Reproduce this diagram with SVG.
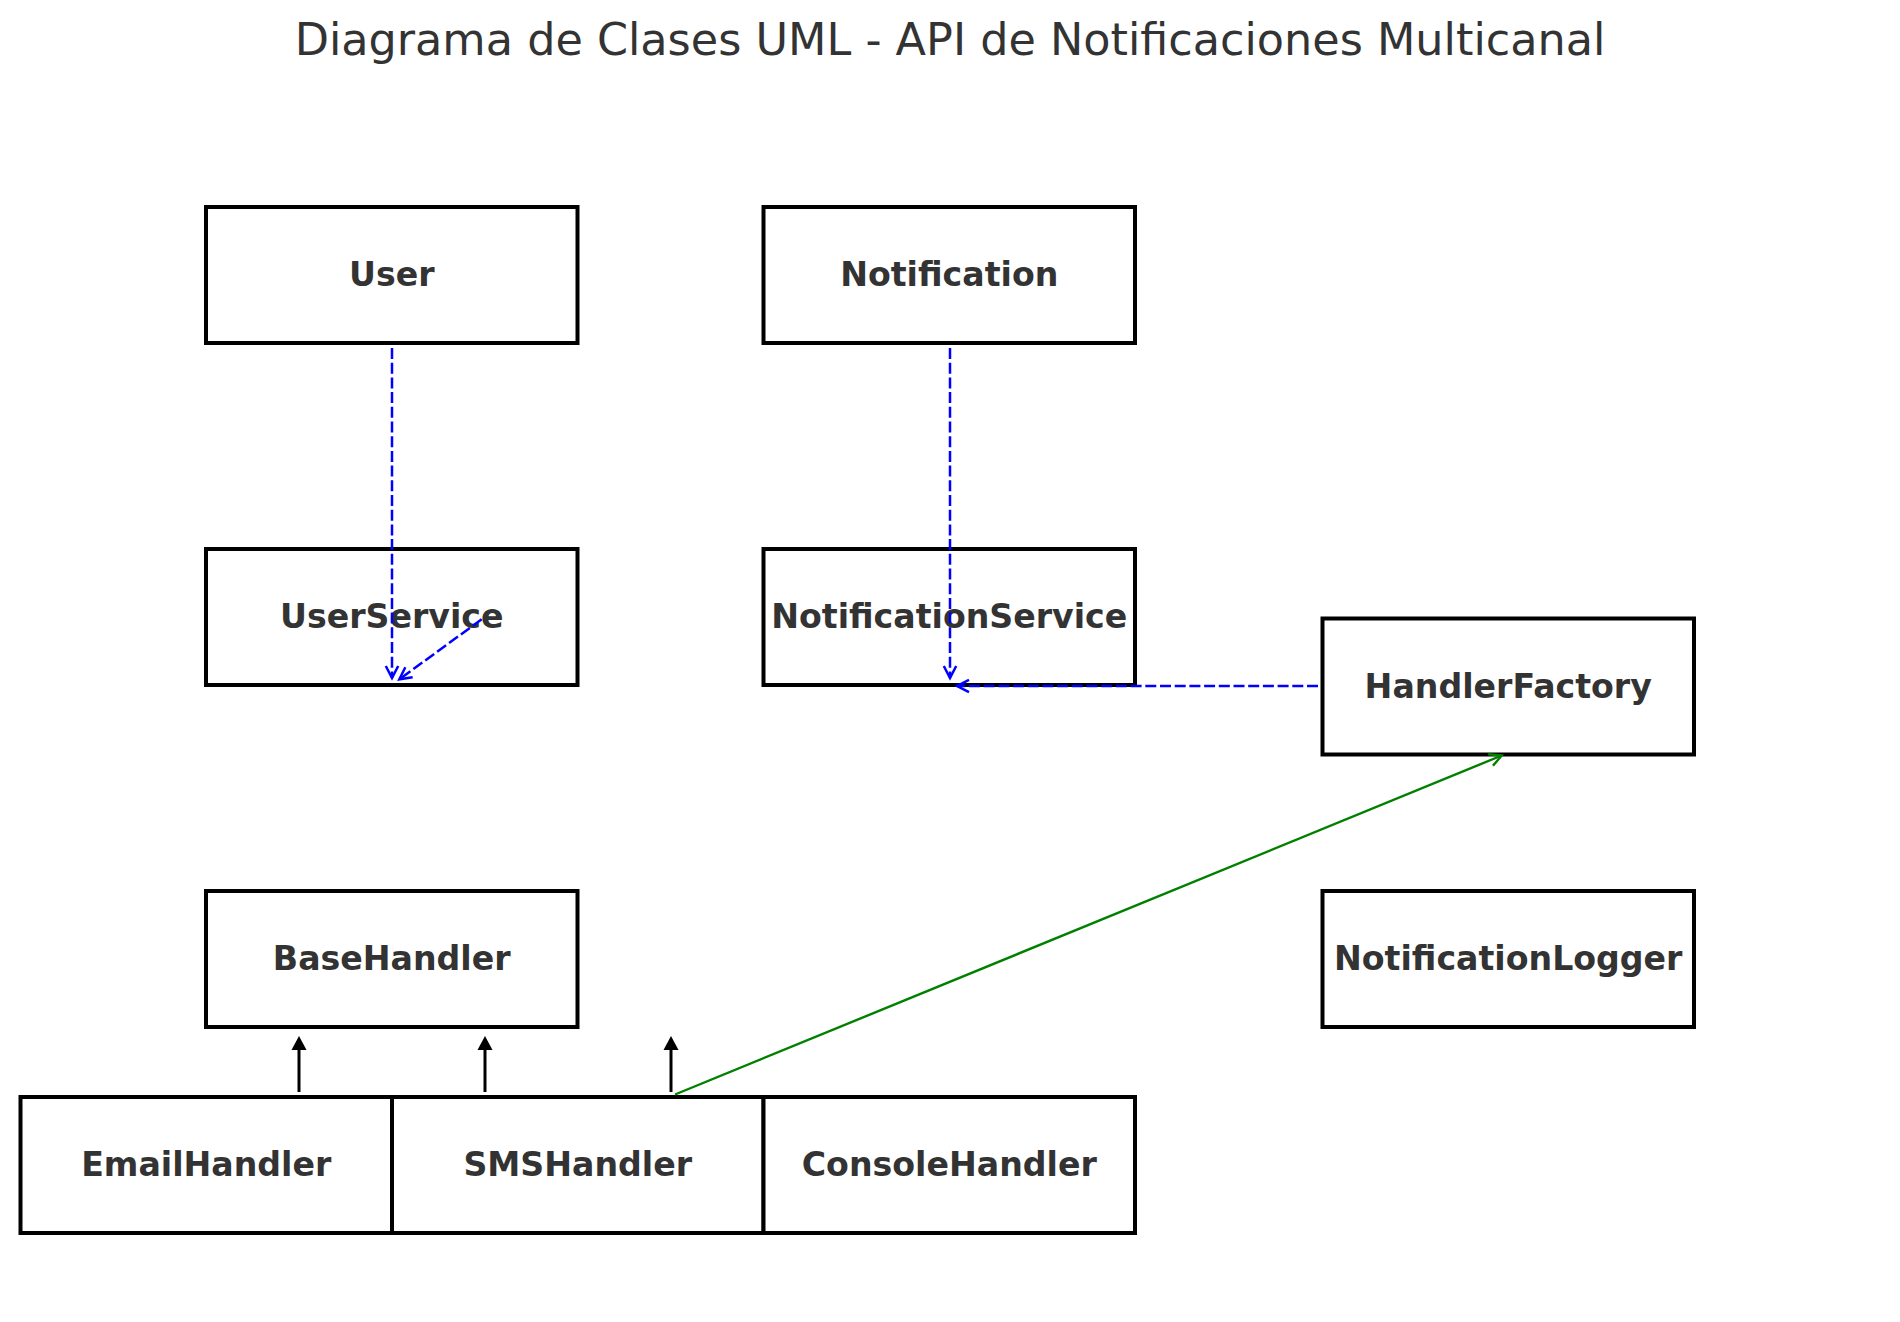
<svg xmlns="http://www.w3.org/2000/svg" width="1900" height="1322" viewBox="0 0 1900 1322">
<style>
.box{fill:#ffffff;stroke:#000000;stroke-width:4}
.lbl{font-family:"DejaVu Sans","Liberation Sans",sans-serif;font-weight:bold;font-size:33.2px;fill:#333333;text-anchor:middle}
.title{font-family:"DejaVu Sans","Liberation Sans",sans-serif;font-size:44.5px;fill:#333333;text-anchor:middle}
.dep{fill:none;stroke:#0000ff;stroke-width:2.5;stroke-dasharray:11 3.7}
.assoc{fill:none;stroke:#008000;stroke-width:2.4}
.inh{fill:none;stroke:#000000;stroke-width:3}
</style>
<defs>
<marker id="openBlue" markerUnits="userSpaceOnUse" markerWidth="30" markerHeight="30" refX="0" refY="0" viewBox="-15 -15 30 30" orient="auto" overflow="visible">
<path d="M -12 -6.2 L 0 0 L -12 6.2" fill="none" stroke="#0000ff" stroke-width="2.5" stroke-dasharray="none"/>
</marker>
<marker id="openGreen" markerUnits="userSpaceOnUse" markerWidth="30" markerHeight="30" refX="0" refY="0" viewBox="-15 -15 30 30" orient="auto" overflow="visible">
<path d="M -12 -6.2 L 0 0 L -12 6.2" fill="none" stroke="#008000" stroke-width="2.4"/>
</marker>
<marker id="triBlack" markerUnits="userSpaceOnUse" markerWidth="30" markerHeight="30" refX="0" refY="0" viewBox="-15 -15 30 30" orient="auto" overflow="visible">
<path d="M 14 0 L 0 -7.5 L 0 7.5 Z" fill="#000000" stroke="none"/>
</marker>
</defs>
<rect width="1900" height="1322" fill="#ffffff"/>
<text class="title" x="950" y="55">Diagrama de Clases UML - API de Notificaciones Multicanal</text>

<g id="User"><rect class="box" x="206" y="207" width="371.5" height="136"/><text class="lbl" x="391.75" y="286">User</text></g>
<g id="Notification"><rect class="box" x="763.5" y="207" width="371.5" height="136"/><text class="lbl" x="949.25" y="286">Notification</text></g>
<g id="UserService"><rect class="box" x="206" y="549" width="371.5" height="136"/><text class="lbl" x="391.75" y="628">UserService</text></g>
<g id="NotificationService"><rect class="box" x="763.5" y="549" width="371.5" height="136"/><text class="lbl" x="949.25" y="628">NotificationService</text></g>
<g id="HandlerFactory"><rect class="box" x="1322.5" y="618.5" width="371.5" height="136"/><text class="lbl" x="1508.25" y="697.5">HandlerFactory</text></g>
<g id="BaseHandler"><rect class="box" x="206" y="891" width="371.5" height="136"/><text class="lbl" x="391.75" y="970">BaseHandler</text></g>
<g id="NotificationLogger"><rect class="box" x="1322.5" y="891" width="371.5" height="136"/><text class="lbl" x="1508.25" y="970">NotificationLogger</text></g>
<g id="EmailHandler"><rect class="box" x="20.5" y="1097" width="371.5" height="136"/><text class="lbl" x="206.25" y="1176">EmailHandler</text></g>
<g id="SMSHandler"><rect class="box" x="392" y="1097" width="371.5" height="136"/><text class="lbl" x="577.75" y="1176">SMSHandler</text></g>
<g id="ConsoleHandler"><rect class="box" x="763.5" y="1097" width="371.5" height="136"/><text class="lbl" x="949.25" y="1176">ConsoleHandler</text></g>

<g id="connectors">
<line class="dep" x1="392" y1="348" x2="392" y2="678" marker-end="url(#openBlue)"/>
<line class="dep" x1="481.7" y1="619.3" x2="399.3" y2="679.3" marker-end="url(#openBlue)"/>
<line class="dep" x1="950" y1="348" x2="950" y2="678" marker-end="url(#openBlue)"/>
<line class="dep" x1="1318" y1="686" x2="957" y2="686" marker-end="url(#openBlue)"/>
<line class="assoc" x1="675" y1="1094.5" x2="1501.7" y2="755.5" marker-end="url(#openGreen)"/>
<line class="inh" x1="299" y1="1092" x2="299" y2="1050" marker-end="url(#triBlack)"/>
<line class="inh" x1="485" y1="1092" x2="485" y2="1050" marker-end="url(#triBlack)"/>
<line class="inh" x1="671" y1="1092" x2="671" y2="1050" marker-end="url(#triBlack)"/>
</g>
</svg>
